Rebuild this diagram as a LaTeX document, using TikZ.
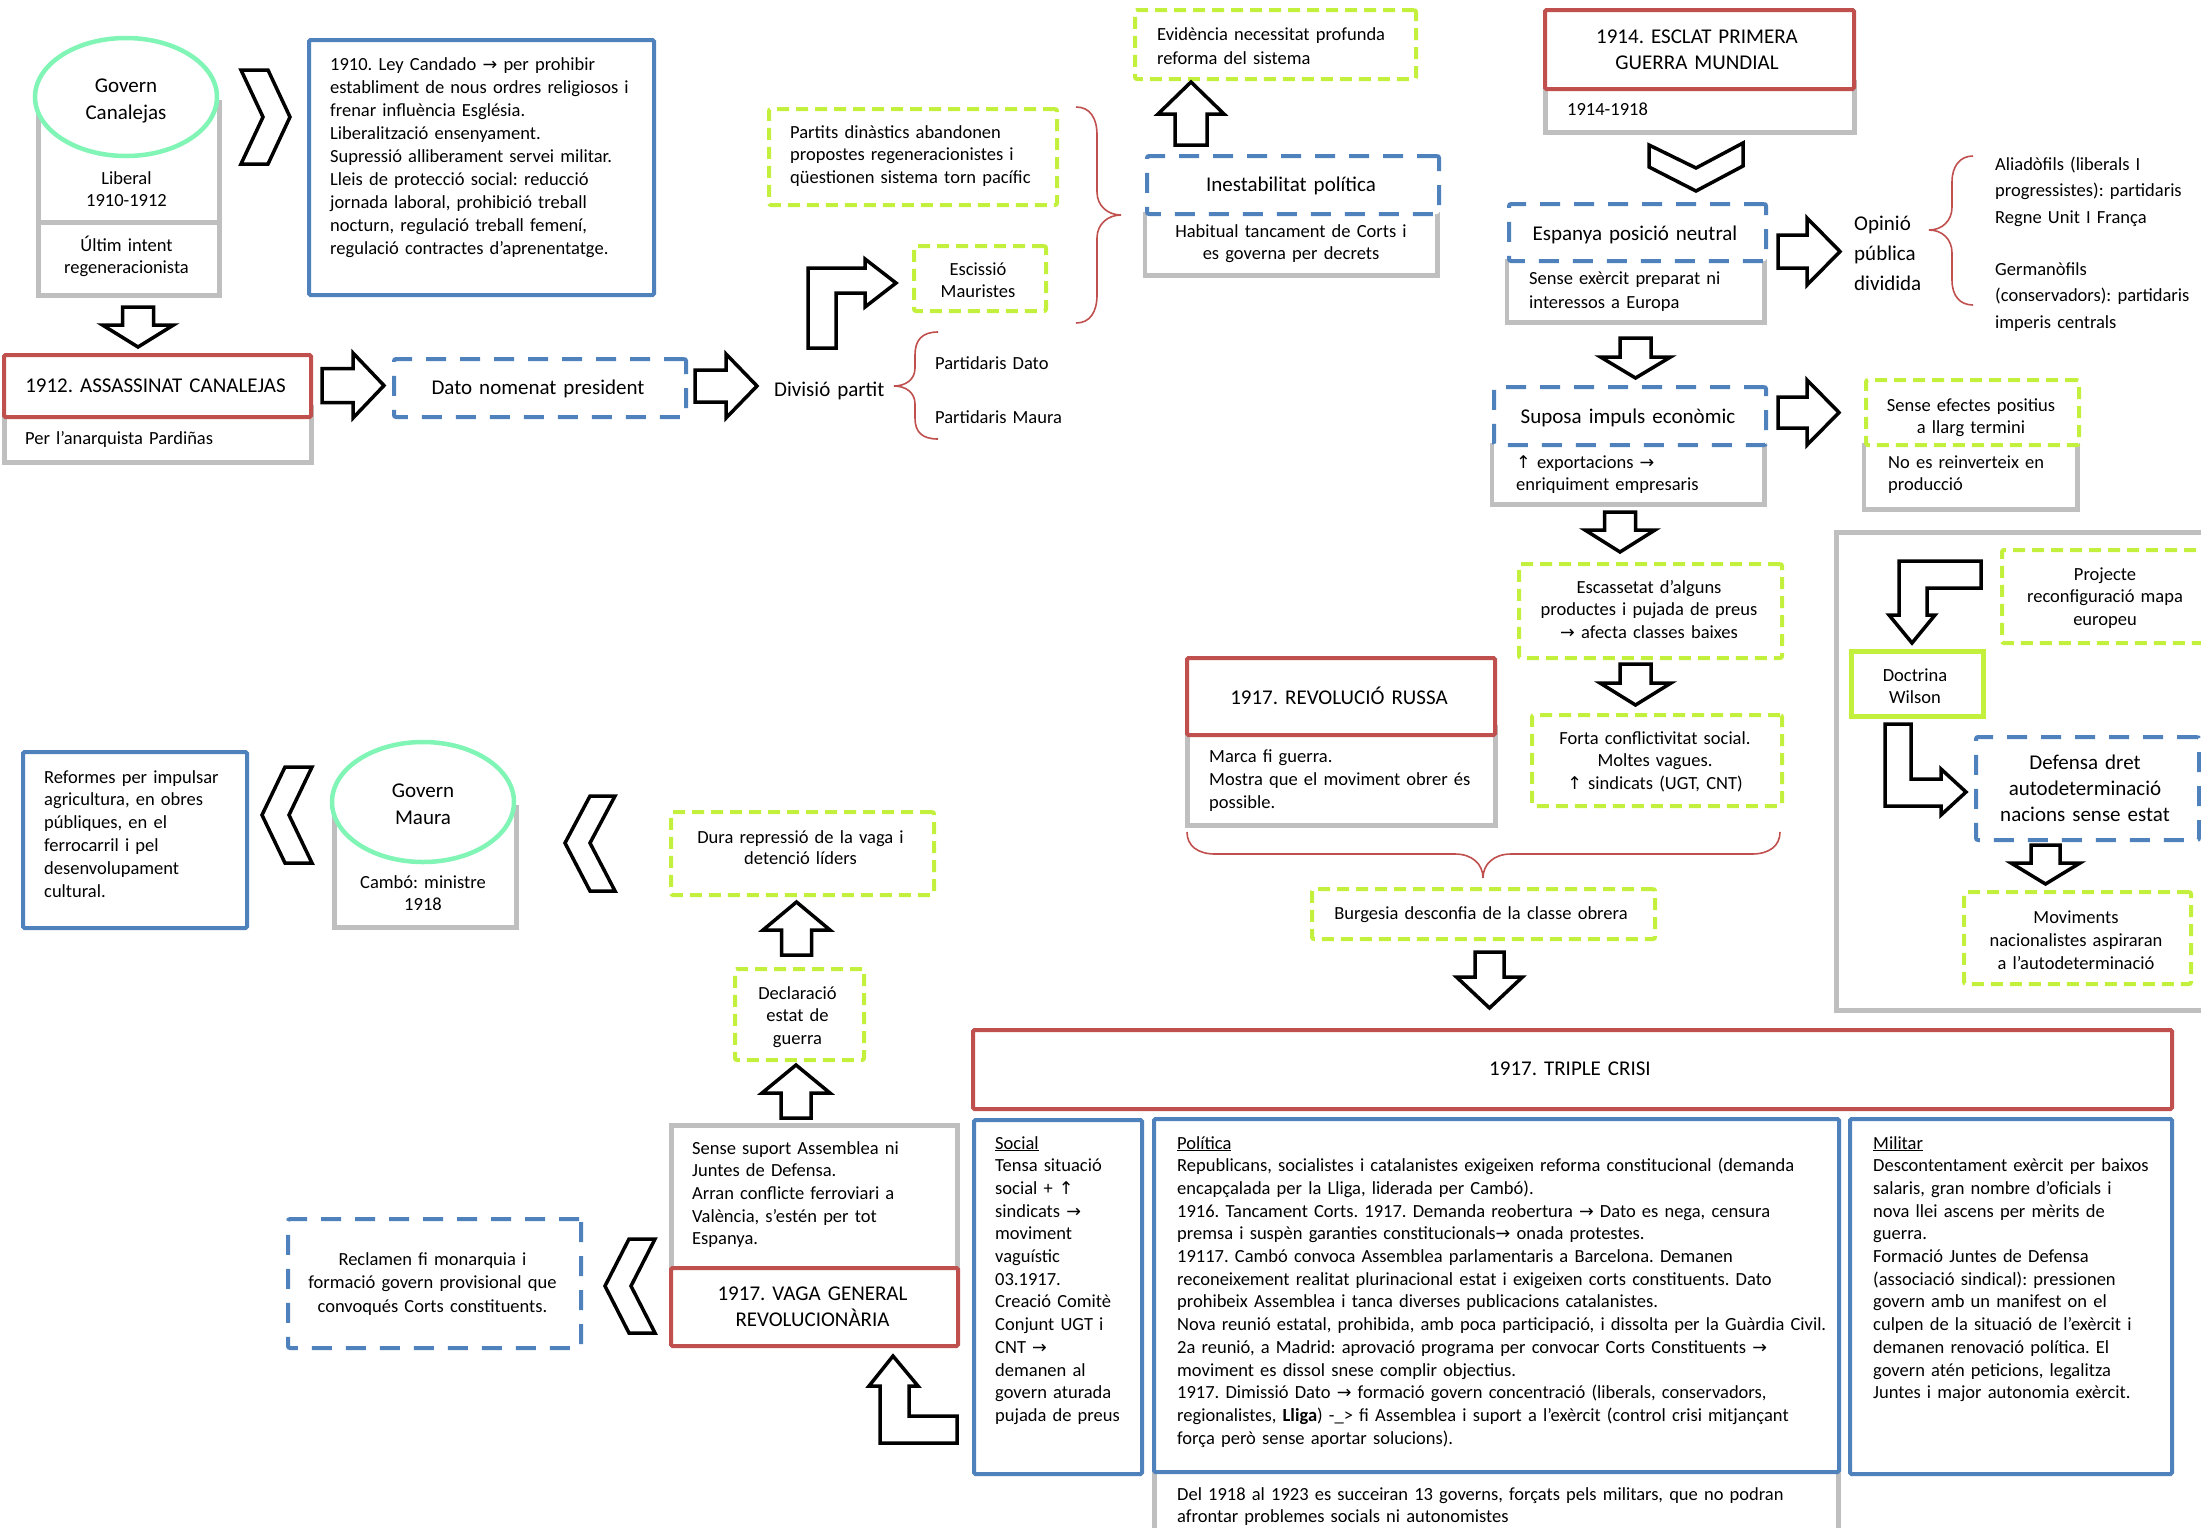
\documentclass[tikz,border=0pt]{standalone}
\usepackage{fontspec}
\setmainfont{Carlito}
\newfontfamily\symf{DejaVu Sans}[Scale=0.95]
\usetikzlibrary{shapes.geometric}
\definecolor{cred}{HTML}{C0504D}
\definecolor{cblue}{HTML}{4F81BD}
\definecolor{cgreen}{HTML}{C3F03C}
\definecolor{cmint}{HTML}{80F5B5}
\definecolor{cgrey}{HTML}{BFBFBF}
\frenchspacing
\newcommand{\rarr}{{\symf →}}
\newcommand{\uarr}{{\symf ↑}}
\newcommand{\boxnode}[6][]{\node[#1, anchor=north west, inner sep=0pt, minimum width={#5-#3}, minimum height={#6-#4}] (#2) at (#3,#4) {};}
\newcommand{\Ushape}[1]{\draw[greyline] (#1.north west) -- (#1.south west) -- (#1.south east) -- (#1.north east);}
\newcommand{\BArrV}[6]{\draw[blk] ({#1-#2},#4) -- ({#1+#2},#4) -- ({#1+#2},#5) -- ({#1+#3},#5) -- (#1,#6) -- ({#1-#3},#5) -- ({#1-#2},#5) -- cycle;}
\newcommand{\BArrH}[6]{\draw[blk] (#4,{#1-#2}) -- (#5,{#1-#2}) -- (#5,{#1-#3}) -- (#6,#1) -- (#5,{#1+#3}) -- (#5,{#1+#2}) -- (#4,{#1+#2}) -- cycle;}
\tikzset{
  redbox/.style={draw=cred, line width=4pt, fill=white, rounded corners=1.5pt},
  bluebox/.style={draw=cblue, line width=4pt, fill=white, rounded corners=1.5pt},
  blued/.style={draw=cblue, line width=4pt, fill=white, dash pattern=on 20pt off 14pt, rounded corners=2pt},
  greend/.style={draw=cgreen, line width=4pt, fill=white, dash pattern=on 12pt off 7pt, rounded corners=2pt},
  greens/.style={draw=cgreen, line width=4.5pt, fill=white},
  greybox/.style={draw=cgrey, line width=4.5pt, fill=white},
  greyframe/.style={draw=none},
  greyline/.style={draw=cgrey, line width=4.5pt},
  ellbox/.style={draw=cmint, line width=4.5pt, fill=white, ellipse, inner sep=0pt},
  blk/.style={draw=black, line width=3.5pt, fill=white, line join=miter},
  brace/.style={draw=cred, line width=1.6pt},
  tl/.style={font=\fontsize{18.5}{22.7}\selectfont, inner sep=0pt, anchor=base west, text width=720pt, align=left},
  tc/.style={font=\fontsize{18.5}{22.7}\selectfont, inner sep=0pt, anchor=base, text width=400pt, align=center},
  bl/.style={font=\fontsize{21}{26}\selectfont, inner sep=0pt, anchor=base west, text width=400pt, align=left},
  bc/.style={font=\fontsize{21}{26}\selectfont, inner sep=0pt, anchor=base, text width=500pt, align=center},
}
\begin{document}
\begin{tikzpicture}[x=1pt,y=-1pt]
\useasboundingbox (0,0) rectangle (2201,1527);
\clip (0,0) rectangle (2201,1527);

% ---------- grey boxes ----------
\boxnode[greybox]{g1}{36}{100}{217}{220}
\boxnode[greybox]{g2}{36}{220}{217}{293}
\boxnode[greybox]{g3}{2}{405}{309}{460}
\boxnode[greyframe]{g4}{1145}{212}{1437}{275}\Ushape{g4}
\boxnode[greybox]{g5}{1543}{80}{1852}{130}
\boxnode[greyframe]{g6}{1507}{259}{1764}{322}\Ushape{g6}
\boxnode[greyframe]{g7}{1492}{443}{1764}{504}\Ushape{g7}
\boxnode[greyframe]{g8}{1864}{443}{2077}{509}\Ushape{g8}
\boxnode[greybox]{g9}{1185}{725}{1493}{823}
\boxnode[greybox]{g10}{1834}{530}{2215}{1008}
\boxnode[greybox]{g11}{1152}{1460}{1836}{1560}
\boxnode[greybox]{g12}{669}{1123}{955}{1275}
\boxnode[greybox]{g13}{332}{805}{514}{925}

% ---------- title boxes ----------
\node[ellbox, minimum width=182pt, minimum height=118pt] (e1) at (126,97) {};
\boxnode[bluebox]{b1}{307}{38}{652}{293}
\boxnode[redbox]{r1}{2}{353}{309}{415}
\boxnode[blued]{d1}{392}{357}{684}{415}
\boxnode[greend]{gd1}{912}{244}{1044}{309}
\boxnode[greend]{gd2}{767}{107}{1055}{203}
\boxnode[blued]{d2}{1145}{154}{1437}{212}
\boxnode[greend]{gd3}{1133}{8}{1414}{77}
\boxnode[redbox]{r2}{1543}{8}{1852}{87}
\boxnode[blued]{d3}{1507}{202}{1764}{259}
\boxnode[blued]{d4}{1492}{385}{1764}{443}
\boxnode[greend]{gd4}{1864}{378}{2077}{443}
\boxnode[greend]{gd5}{1517}{562}{1780}{656}
\boxnode[greend]{gd6}{1530}{713}{1780}{804}
\boxnode[redbox]{r3}{1185}{656}{1493}{733}
\boxnode[greend]{gd7}{1310}{887}{1653}{937}
\boxnode[greend]{gd8}{2000}{548}{2215}{641}
\boxnode[greens]{gs1}{1849}{649}{1981}{714}
\boxnode[blued]{d5}{1974}{735}{2197}{838}
\boxnode[greend]{gd9}{1962}{890}{2189}{982}
\boxnode[redbox]{r4}{971}{1028}{2170}{1107}
\boxnode[bluebox]{b2}{972}{1118}{1140}{1472}
\boxnode[bluebox]{b3}{1152}{1117}{1837}{1470}
\boxnode[bluebox]{b4}{1848}{1117}{2170}{1472}
\boxnode[redbox]{r5}{669}{1266}{956}{1344}
\boxnode[blued]{d6}{286}{1217}{579}{1346}
\boxnode[greend]{gd10}{733}{967}{862}{1058}
\boxnode[greend]{gd11}{669}{810}{932}{893}
\node[ellbox, minimum width=182pt, minimum height=120pt] (e2) at (423,802) {};
\boxnode[bluebox]{b5}{21}{750}{245}{926}

% ---------- texts ----------
\node[bc, font=\fontsize{21}{27}\selectfont] (te1) at (126,92) {Govern\\Canalejas};
\node[tc] (tg1) at (126.5,184) {Liberal\\1910-1912};
\node[tc] (tg2) at (126.5,251) {Últim intent\\regeneracionista};
\node[tl, font=\fontsize{18.5}{23}\selectfont] (tb1) at (330,70) {1910. Ley Candado \rarr{} per prohibir\\establiment de nous ordres religiosos i\\frenar influència Església.\\Liberalització ensenyament.\\Supressió alliberament servei militar.\\Lleis de protecció social: reducció\\jornada laboral, prohibició treball\\nocturn, regulació treball femení,\\regulació contractes d’aprenentatge.};
\node[bc] (tr1) at (155.5,392) {1912. ASSASSINAT CANALEJAS};
\node[tl] (tg3) at (25,444) {Per l’anarquista Pardiñas};
\node[bc] (td1) at (538,394) {Dato nomenat president};
\node[bl] (tdiv) at (774,396) {Divisió partit};
\node[tl] (tpd) at (935,369) {Partidaris Dato};
\node[tl] (tpm) at (935,423) {Partidaris Maura};
\node[tc] (tgd1) at (978,275) {Escissió\\Mauristes};
\node[tl, font=\fontsize{18.5}{22.5}\selectfont] (tgd2) at (790,138) {Partits dinàstics abandonen\\propostes regeneracionistes i\\qüestionen sistema torn pacífic};
\node[bc] (td2) at (1291,191) {Inestabilitat política};
\node[tc] (tg4) at (1291,237) {Habitual tancament de Corts i\\es governa per decrets};
\node[tl, font=\fontsize{18.5}{24}\selectfont] (tgd3) at (1157,40) {Evidència necessitat profunda\\reforma del sistema};
\node[bc] (tr2) at (1697,43) {1914. ESCLAT PRIMERA\\GUERRA MUNDIAL};
\node[tl] (tg5) at (1567,115) {1914-1918};
\node[bc] (td3) at (1635,240) {Espanya posició neutral};
\node[tl, font=\fontsize{18.5}{24}\selectfont] (tg6) at (1529,284) {Sense exèrcit preparat ni\\interessos a Europa};
\node[bl, font=\fontsize{21}{30}\selectfont] (top) at (1854,230) {Opinió\\pública\\dividida};
\node[tl, font=\fontsize{18.5}{26.5}\selectfont] (tal) at (1995,170) {Aliadòfils (liberals I\\progressistes): partidaris\\Regne Unit I França};
\node[tl, font=\fontsize{18.5}{26.5}\selectfont] (tge) at (1995,275) {Germanòfils\\(conservadors): partidaris\\imperis centrals};
\node[bc] (td4) at (1628,423) {Suposa impuls econòmic};
\node[tl, font=\fontsize{18.5}{22.5}\selectfont] (tg7) at (1516,468) {\uarr{} exportacions \rarr\\enriquiment empresaris};
\node[tc, font=\fontsize{18.5}{22}\selectfont] (tgd4) at (1971,411) {Sense efectes positius\\a llarg termini};
\node[tl, font=\fontsize{18.5}{22.5}\selectfont] (tg8) at (1888,468) {No es reinverteix en\\producció};
\node[tc] (tgd5) at (1649,593) {Escassetat d’alguns\\productes i pujada de preus\\\rarr{} afecta classes baixes};
\node[tc] (tgd6) at (1655,744) {Forta conflictivitat social.\\Moltes vagues.\\\uarr{} sindicats (UGT, CNT)};
\node[bc] (tr3) at (1339,704) {1917. REVOLUCIÓ RUSSA};
\node[tl, font=\fontsize{18.5}{23.3}\selectfont] (tg9) at (1209,762) {Marca fi guerra.\\Mostra que el moviment obrer és\\possible.};
\node[tc] (tgd7) at (1481,919) {Burgesia desconfia de la classe obrera};
\node[tc, font=\fontsize{18.5}{22.5}\selectfont] (tgd8) at (2105,580) {Projecte\\reconfiguració mapa\\europeu};
\node[tc] (tgs1) at (1915,681) {Doctrina\\Wilson};
\node[bc] (td5) at (2085,769) {Defensa dret\\autodeterminació\\nacions sense estat};
\node[tc, font=\fontsize{18.5}{23}\selectfont] (tgd9) at (2076,923) {Moviments\\nacionalistes aspiraran\\a l’autodeterminació};
\node[bc] (tr4) at (1570,1075) {1917. TRIPLE CRISI};
\node[tl] (tb2) at (995,1149) {\underline{Social}\\Tensa situació\\social + \uarr\\sindicats \rarr\\moviment\\vaguístic\\03.1917.\\Creació Comitè\\Conjunt UGT i\\CNT \rarr\\demanen al\\govern aturada\\pujada de preus};
\node[tl] (tb3) at (1177,1149) {\underline{Política}\\Republicans, socialistes i catalanistes exigeixen reforma constitucional (demanda\\encapçalada per la Lliga, liderada per Cambó).\\1916. Tancament Corts. 1917. Demanda reobertura \rarr{} Dato es nega, censura\\premsa i suspèn garanties constitucionals\rarr{} onada protestes.\\19117. Cambó convoca Assemblea parlamentaris a Barcelona. Demanen\\reconeixement realitat plurinacional estat i exigeixen corts constituents. Dato\\prohibeix Assemblea i tanca diverses publicacions catalanistes.\\Nova reunió estatal, prohibida, amb poca participació, i dissolta per la Guàrdia Civil.\\2a reunió, a Madrid: aprovació programa per convocar Corts Constituents \rarr\\moviment es dissol snese complir objectius.\\1917. Dimissió Dato \rarr{} formació govern concentració (liberals, conservadors,\\regionalistes, \textbf{Lliga}) -\_> fi Assemblea i suport a l’exèrcit (control crisi mitjançant\\força però sense aportar solucions).};
\node[tl] (tg11) at (1177,1500) {Del 1918 al 1923 es succeiran 13 governs, forçats pels militars, que no podran\\afrontar problemes socials ni autonomistes};
\node[tl] (tb4) at (1873,1149) {\underline{Militar}\\Descontentament exèrcit per baixos\\salaris, gran nombre d’oficials i\\nova llei ascens per mèrits de\\guerra.\\Formació Juntes de Defensa\\(associació sindical): pressionen\\govern amb un manifest on el\\culpen de la situació de l’exèrcit i\\demanen renovació política. El\\govern atén peticions, legalitza\\Juntes i major autonomia exèrcit.};
\node[tl] (tg12) at (692,1154) {Sense suport Assemblea ni\\Juntes de Defensa.\\Arran conflicte ferroviari a\\València, s’estén per tot\\Espanya.};
\node[bc] (tr5) at (812.5,1300) {1917. VAGA GENERAL\\REVOLUCIONÀRIA};
\node[tc, font=\fontsize{18.5}{23.5}\selectfont] (td6) at (432.5,1265) {Reclamen fi monarquia i\\formació govern provisional que\\convoqués Corts constituents.};
\node[tc, font=\fontsize{18.5}{22.5}\selectfont] (tgd10) at (797.5,999) {Declaració\\estat de\\guerra};
\node[tc, font=\fontsize{18.5}{21.5}\selectfont] (tgd11) at (800.5,843) {Dura repressió de la vaga i\\detenció líders};
\node[bc, font=\fontsize{21}{27}\selectfont] (te2) at (423,797) {Govern\\Maura};
\node[tc, font=\fontsize{18.5}{22}\selectfont] (tg13) at (423,888) {Cambó: ministre\\1918};
\node[tl, font=\fontsize{18.5}{22.8}\selectfont] (tb5) at (44,783) {Reformes per impulsar\\agricultura, en obres\\públiques, en el\\ferrocarril i pel\\desenvolupament\\cultural.};

% ---------- block arrows ----------
\BArrV{138}{15.5}{35.5}{307}{325}{347}
\BArrH{385.5}{17}{32.5}{322}{353}{384}
\BArrH{386}{16}{32}{695}{726}{757}
\draw[blk] (808,348) -- (808,268) -- (865,268) -- (865,259) -- (896,283) -- (865,307) -- (865,293) -- (836,293) -- (836,348) -- cycle;
\BArrV{1191}{16}{33}{145}{114}{82}
\draw[blk] (241,70) -- (268,70) -- (290,117) -- (268,164) -- (241,164) -- (263,117) -- cycle;
\draw[blk] (1649,145) -- (1696,168) -- (1743,143) -- (1743,166) -- (1696,191) -- (1649,167) -- cycle;
\BArrH{251.5}{16.5}{33.5}{1778}{1807}{1840}
\BArrV{1635.5}{15.5}{35}{338}{357}{378}
\BArrH{412.5}{15.5}{32.5}{1778}{1807}{1839}
\BArrV{1620}{15.5}{35}{512}{530}{552}
\BArrV{1635.5}{15.5}{35.5}{664}{683}{705}
\BArrV{1489.5}{14.5}{33}{952}{977}{1008}
\draw[blk] (1981,561) -- (1899,561) -- (1899,615) -- (1889,615) -- (1912,643) -- (1935,615) -- (1927,615) -- (1927,588) -- (1981,588) -- cycle;
\draw[blk] (1885,724) -- (1911,724) -- (1911,779) -- (1941,779) -- (1941,769) -- (1966,792) -- (1941,815) -- (1941,806) -- (1885,806) -- cycle;
\BArrV{2045.5}{14.5}{34.5}{845}{863}{884}
\draw[blk] (312,767) -- (285,767) -- (262,815) -- (285,863) -- (312,863) -- (289,815) -- cycle;
\draw[blk] (615,796) -- (590,796) -- (565,843) -- (590,891) -- (615,891) -- (590,843) -- cycle;
\BArrV{796.5}{15}{33.5}{955}{930}{902}
\BArrV{796}{15}{34}{1118}{1093}{1065}
\draw[blk] (655,1239) -- (629,1239) -- (605,1286) -- (629,1333) -- (655,1333) -- (631,1286) -- cycle;
\draw[blk] (957,1443) -- (880,1443) -- (880,1386) -- (869,1386) -- (893,1356) -- (918,1386) -- (909,1386) -- (909,1416) -- (957,1416) -- cycle;

% ---------- braces ----------
\draw[brace] (938,332) .. controls (922,332) and (915,340) .. (915,355) -- (915,368) .. controls (915,380) and (905,386) .. (894,386) .. controls (905,386) and (915,392) .. (915,404) -- (915,418) .. controls (915,432) and (922,439) .. (938,439);
\draw[brace] (1076,107) .. controls (1090,107) and (1097,118) .. (1097,135) -- (1097,192) .. controls (1097,206) and (1108,215) .. (1121,215) .. controls (1108,215) and (1097,224) .. (1097,238) -- (1097,295) .. controls (1097,312) and (1090,323) .. (1076,323);
\draw[brace] (1973,156) .. controls (1960,156) and (1952,166) .. (1952,182) -- (1952,207) .. controls (1952,221) and (1942,230) .. (1929,230) .. controls (1942,230) and (1952,239) .. (1952,253) -- (1952,280) .. controls (1952,296) and (1960,305) .. (1973,305);
\draw[brace] (1187,832) .. controls (1187,846) and (1198,854) .. (1215,854) -- (1455,854) .. controls (1472,854) and (1483,864) .. (1483,878) .. controls (1483,864) and (1494,854) .. (1511,854) -- (1752,854) .. controls (1769,854) and (1780,846) .. (1780,832);
\end{tikzpicture}
\end{document}
